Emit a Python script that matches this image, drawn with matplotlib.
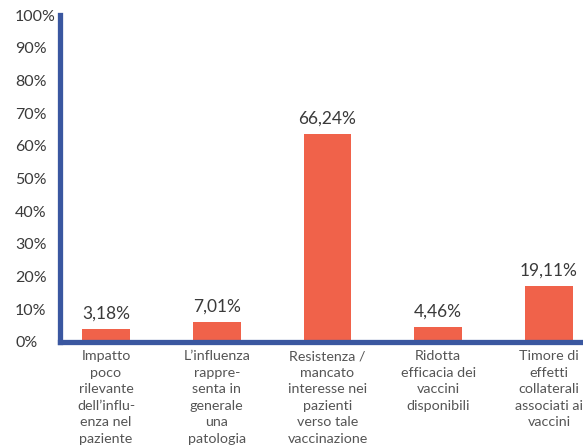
import numpy as np
import matplotlib.pyplot as plt

# categories and values
categories = [
    "Impatto\npoco\nrilevante\ndell\u2019influ-\nenza nel\npaziente",
    "L\u2019influenza\nrappre-\nsenta in\ngenerale\nuna\npatologia",
    "Resistenza /\nmancato\ninteresse nei\npazienti\nverso tale\nvaccinazione",
    "Ridotta\nefficacia dei\nvaccini\ndisponibili",
    "Timore di\neffetti\ncollaterali\nassociati ai\nvaccini",
]
# bar heights as drawn in the picture (the labels differ slightly from the drawn heights)
heights = [4.0, 6.0, 63.5, 4.6, 17.0]
value_labels = ["3,18%", "7,01%", "66,24%", "4,46%", "19,11%"]
yticks = list(range(0, 101, 10))

plt.rcParams['font.family'] = ['Lato', 'DejaVu Sans']

fig = plt.figure(figsize=(5.83, 4.47), dpi=100)
ax = fig.add_axes([0.103, 0.235, 0.897, 0.731])

x = np.arange(len(categories))
bars = ax.bar(x, heights, width=0.433, color="#F0624A", zorder=1)

for b, lab in zip(bars, value_labels):
    ax.text(b.get_x() + b.get_width() / 2, b.get_height() + 2.3, lab,
            ha="center", va="bottom", fontsize=12.5, color="#3a3a3a")

ax.set_ylim(0, 100)
ax.set_xlim(-0.415, 4.307)
ax.set_yticks(yticks)
ax.set_yticklabels([f"{t}%" for t in yticks], fontsize=11.5, color="#3a3a3a")
ax.tick_params(axis="y", length=0, pad=32.4)
for lab in ax.get_yticklabels():
    lab.set_horizontalalignment("left")

ax.set_xticks(x)
ax.set_xticklabels(categories, fontsize=10.3, color="#555555", linespacing=1.45,
                   va="top")
ax.tick_params(axis="x", length=0, pad=6)

for s in ["top", "right"]:
    ax.spines[s].set_visible(False)
for s in ["left", "bottom"]:
    ax.spines[s].set_color("#3A57A0")
    ax.spines[s].set_linewidth(3.8)
    ax.spines[s].set_zorder(3)

fig.savefig("out.png", dpi=100)
